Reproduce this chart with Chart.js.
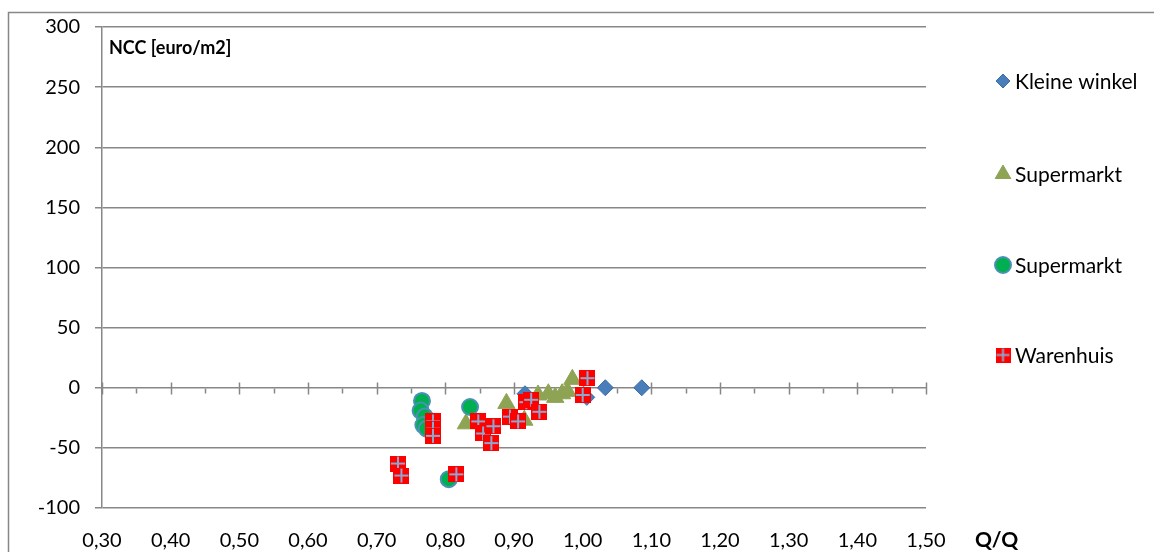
<!DOCTYPE html>
<html>
<head>
<meta charset="utf-8">
<script src="https://cdn.jsdelivr.net/npm/chart.js@4"></script>
<style>
  html, body { margin: 0; padding: 0; background: #fff; }
  canvas { display: block; }
</style>
</head>
<body>
<canvas id="chart" width="1154" height="552"></canvas>
<script>
// Q/Q ratio against NCC per shop type
const kleineX = [0.916, 1.006, 1.033, 1.086];
const kleineY = [-5, -8, 0, 0];

const superTriX = [0.830, 0.889, 0.915, 0.935, 0.950, 0.960, 0.970, 0.978, 0.985];
const superTriY = [-30, -13, -27, -6, -5, -8, -5, -3, 7];

const superCircX = [0.766, 0.764, 0.770, 0.768, 0.773, 0.836, 0.805];
const superCircY = [-11, -19, -24, -31, -34, -16, -76];

const wareX = [0.731, 0.736, 0.782, 0.782, 0.782, 0.816, 0.848, 0.855, 0.870, 0.867, 0.894, 0.906, 0.918, 0.925, 0.937, 1.000, 1.007];
const wareY = [-63, -73, -28, -34, -40, -72, -28, -38, -32, -46, -24, -28, -12, -10, -20, -6, 8];

const seriesNames = ['Kleine winkel', 'Supermarkt', 'Supermarkt', 'Warenhuis'];
const yTicks = [-100, -50, 0, 50, 100, 150, 200, 250, 300];

const FONT = 'Lato, "Open Sans", sans-serif';
const GRID = '#878787';

function pairs(xs, ys) {
    return xs.map((x, i) => ({ x: x, y: ys[i] }));
}

// red square with a grey-blue cross, used as marker for Warenhuis
function crossSquare(size) {
    const c = document.createElement('canvas');
    c.width = size; c.height = size;
    const g = c.getContext('2d');
    g.fillStyle = '#ff0000';
    g.fillRect(0, 0, size, size);
    g.strokeStyle = '#8ea7cf';
    g.lineWidth = 2;
    g.beginPath();
    g.moveTo(size / 2, 1); g.lineTo(size / 2, size - 1);
    g.moveTo(1, size / 2); g.lineTo(size - 1, size / 2);
    g.stroke();
    return c;
}
const wareMarker = crossSquare(16);
const wareLegend = crossSquare(15);

// frame, the x axis ticks on the zero line, the labels and the legend
const extras = {
    id: 'extras',
    beforeDraw(chart) {
        const ctx = chart.ctx;
        ctx.save();
        ctx.strokeStyle = GRID;
        ctx.lineWidth = 1.5;
        ctx.beginPath();
        ctx.moveTo(8.5, 552); ctx.lineTo(8.5, 12.5); ctx.lineTo(1154, 12.5);
        ctx.stroke();
        ctx.restore();
    },
    beforeDatasetsDraw(chart) {
        const ctx = chart.ctx;
        const xs = chart.scales.x, ys = chart.scales.y;
        const y0 = Math.round(ys.getPixelForValue(0)) + 0.5;
        ctx.save();
        ctx.strokeStyle = GRID;
        ctx.lineWidth = 1.5;
        for (let k = 0; k <= 24; k++) {
            const v = 0.3 + k * 0.05;
            const px = Math.round(xs.getPixelForValue(v)) + 0.5;
            ctx.beginPath();
            if (k % 2 === 0) { ctx.moveTo(px, y0 - 6); ctx.lineTo(px, y0 + 6); }
            else { ctx.moveTo(px, y0); ctx.lineTo(px, y0 + 5); }
            ctx.stroke();
        }
        ctx.restore();
    },
    afterDraw(chart) {
        const ctx = chart.ctx;
        ctx.save();
        ctx.fillStyle = '#000';
        ctx.textBaseline = 'middle';
        ctx.font = 'bold 18px ' + FONT;
        ctx.fillText('NCC [euro/m2]', 109, 48);
        ctx.font = 'bold 21px ' + FONT;
        ctx.fillText('Q/Q', 975, 540);

        // legend
        const rows = [81, 174, 265, 355];
        chart.data.datasets.forEach((ds, i) => {
            const cy = rows[i];
            ctx.save();
            ctx.fillStyle = ds.backgroundColor;
            ctx.strokeStyle = ds.borderColor;
            ctx.lineWidth = ds.borderWidth;
            Chart.helpers.drawPoint(ctx, {
                pointStyle: i === 3 ? wareLegend : ds.pointStyle,
                radius: ds.legendRadius,
                rotation: 0,
                borderWidth: ds.borderWidth
            }, 1003, cy);
            ctx.restore();
            ctx.fillStyle = '#000';
            ctx.font = '21px ' + FONT;
            ctx.fillText(ds.label, 1015, cy + 1);
        });
        ctx.restore();
    }
};

const ctx = document.getElementById('chart').getContext('2d');
new Chart(ctx, {
    type: 'scatter',
    data: {
        datasets: [
            {
                label: seriesNames[0],
                data: pairs(kleineX, kleineY),
                pointStyle: 'rectRot',
                pointRadius: 8,
                backgroundColor: '#4a7ebb',
                borderColor: '#3d6da6',
                borderWidth: 1,
                legendRadius: 7,
                order: 3
            },
            {
                label: seriesNames[1],
                data: pairs(superTriX, superTriY),
                pointStyle: 'triangle',
                pointRadius: 10,
                backgroundColor: '#8ea353',
                borderColor: '#8ea353',
                borderWidth: 1,
                legendRadius: 9,
                order: 2
            },
            {
                label: seriesNames[2],
                data: pairs(superCircX, superCircY),
                pointStyle: 'circle',
                pointRadius: 8,
                backgroundColor: '#00b050',
                borderColor: '#4a92b4',
                borderWidth: 2,
                legendRadius: 8,
                order: 1
            },
            {
                label: seriesNames[3],
                data: pairs(wareX, wareY),
                pointStyle: wareMarker,
                pointRadius: 8,
                backgroundColor: '#ff0000',
                borderColor: '#ff0000',
                borderWidth: 0,
                legendRadius: 7,
                order: 0
            }
        ]
    },
    options: {
        responsive: false,
        animation: false,
        devicePixelRatio: 1,
        layout: { padding: { top: 26, right: 228, left: 0, bottom: 0 } },
        plugins: {
            legend: { display: false },
            tooltip: { enabled: false }
        },
        scales: {
            x: {
                type: 'linear',
                position: 'bottom',
                min: 0.3,
                max: 1.5,
                afterBuildTicks: s => { s.ticks = Array.from({ length: 13 }, (_, i) => ({ value: 0.3 + i * 0.1 })); },
                afterFit: s => { s.height = 44; },
                grid: { display: false, drawTicks: false },
                border: { display: false },
                ticks: {
                    padding: 21,
                    color: '#000',
                    font: { family: FONT, size: 20 },
                    maxRotation: 0,
                    callback: v => v.toFixed(2).replace('.', ',')
                }
            },
            y: {
                min: -100,
                max: 300,
                afterBuildTicks: s => { s.ticks = yTicks.map(v => ({ value: v })); },
                afterFit: s => { s.width = 102; },
                grid: { color: GRID, lineWidth: 1.5, tickLength: 7 },
                border: { color: GRID, width: 1.5 },
                ticks: {
                    padding: 15,
                    color: '#000',
                    font: { family: FONT, size: 20 }
                }
            }
        }
    },
    plugins: [extras]
});
</script>
</body>
</html>
